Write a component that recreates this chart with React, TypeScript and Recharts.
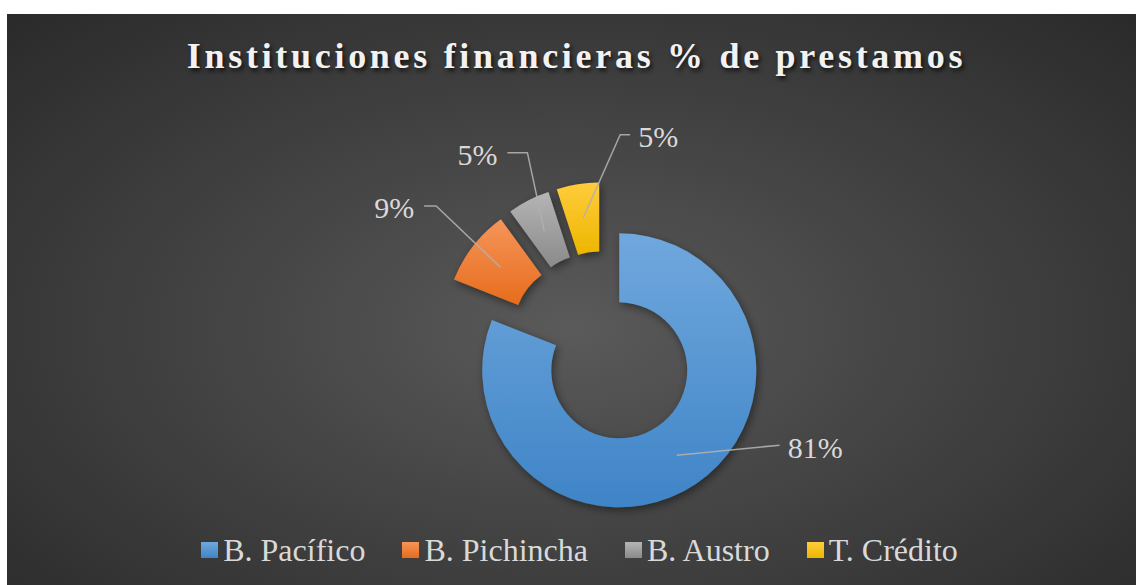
import React from "react";
import { Legend, Pie, PieChart, Sector } from "recharts";

const NAMES = ["B. Pacífico", "B. Pichincha", "B. Austro", "T. Crédito"];
const VALUES = [81, 9, 5, 5];

// gradient stops per slice: [top, bottom]
const COLORS: [string, string][] = [
  ["#70a8dd", "#3f84c7"],
  ["#f5955a", "#e76c1c"],
  ["#b5b5b5", "#8a8a8a"],
  ["#ffcc3c", "#edb600"],
];

// every slice is pulled out of the pie by this much, px
const EXPLODE = [28, 28, 28, 28];

// leader line elbow (polar, from the slice centre) and the short horizontal tail
const LABEL_LAYOUT = [
  { angle: -25, radius: 177, tail: 0 },
  { angle: 139.5, radius: 191, tail: -12 },
  { angle: 110.5, radius: 181, tail: -20 },
  { angle: 83.5, radius: 186, tail: 10 },
];

const W = 1129;
const H = 571;
const FONT = '"Liberation Serif", "DejaVu Serif", serif';
const TEXT = "#d9d9d9";
const RAD = Math.PI / 180;

const data = NAMES.map((name, i) => ({ name, value: VALUES[i], fill: COLORS[i][1] }));

function sliceIndex(props: any) {
  if (typeof props.index === "number") return props.index;
  const i = NAMES.indexOf(props.name ?? props.payload?.name);
  return i < 0 ? 0 : i;
}

function renderSlice(props: any) {
  const i = sliceIndex(props);
  const a = -props.midAngle * RAD;
  const d = EXPLODE[i];
  return (
    <Sector
      {...props}
      cx={props.cx + d * Math.cos(a)}
      cy={props.cy + d * Math.sin(a)}
      fill={`url(#slice${i})`}
      stroke="none"
      filter="url(#sliceShadow)"
    />
  );
}

function renderLabel(props: any) {
  const { cx, cy, midAngle, innerRadius, outerRadius, percent, index } = props;
  const a = -midAngle * RAD;
  const ox = cx + EXPLODE[index] * Math.cos(a);
  const oy = cy + EXPLODE[index] * Math.sin(a);
  const r = (innerRadius + outerRadius) / 2;
  const sx = ox + r * Math.cos(a);
  const sy = oy + r * Math.sin(a);
  const lay = LABEL_LAYOUT[index];
  const b = -lay.angle * RAD;
  const ex = ox + lay.radius * Math.cos(b);
  const ey = oy + lay.radius * Math.sin(b);
  const tx = ex + lay.tail;
  const right = lay.tail >= 0;
  return (
    <g key={`lbl${index}`}>
      <polyline
        points={`${sx},${sy} ${ex},${ey} ${tx},${ey}`}
        fill="none"
        stroke="#b0b0b0"
        strokeOpacity={0.9}
        strokeWidth={1.5}
      />
      <text
        x={tx + (right ? 8 : -10)}
        y={ey + 2}
        textAnchor={right ? "start" : "end"}
        dominantBaseline="central"
        fill={TEXT}
        fontFamily="Liberation Serif"
        fontWeight="normal"
        fontSize={30}
      >
        {`${Math.round(percent * 100)}%`}
      </text>
    </g>
  );
}

function renderLegend() {
  return (
    <div
      style={{
        display: "flex",
        justifyContent: "center",
        alignItems: "center",
        paddingLeft: 16,
        height: 36,
      }}
    >
      {NAMES.map((name, i) => (
        <div
          key={name}
          style={{ display: "flex", alignItems: "center", marginRight: i < NAMES.length - 1 ? 37 : 0 }}
        >
          <span
            style={{
              width: 17,
              height: 16,
              marginRight: 5,
              background: `linear-gradient(${COLORS[i][0]}, ${COLORS[i][1]})`,
            }}
          />
          <span style={{ color: TEXT, fontSize: 32, lineHeight: "36px", fontFamily: FONT, fontWeight: 400 }}>
            {name}
          </span>
        </div>
      ))}
    </div>
  );
}

export default function App() {
  return (
    <div
      style={{
        position: "absolute",
        left: 7,
        top: 14,
        width: W,
        height: H,
        background: "radial-gradient(ellipse at 50% 55%, #5a5a5a 0%, #464646 40%, #2a2a2a 100%)",
        fontFamily: FONT,
        overflow: "hidden",
      }}
    >
      <div
        style={{
          position: "absolute",
          top: 24,
          left: 5,
          width: W,
          textAlign: "center",
          fontSize: 36,
          lineHeight: "36px",
          fontWeight: "bold",
          letterSpacing: 3.7,
          color: "#f2f2f2",
          textShadow: "2px 3px 4px rgba(0,0,0,0.7)",
          zIndex: 1,
        }}
      >
        Instituciones financieras % de prestamos
      </div>
      <PieChart width={W} height={H} margin={{ top: 0, right: 0, bottom: 0, left: 0 }} style={{ fontFamily: FONT }}>
        <defs>
          {COLORS.map((c, i) => (
            <linearGradient key={i} id={`slice${i}`} x1="0" y1="0" x2="0" y2="1">
              <stop offset="0%" stopColor={c[0]} />
              <stop offset="100%" stopColor={c[1]} />
            </linearGradient>
          ))}
          <filter id="sliceShadow" x="-20%" y="-20%" width="140%" height="140%">
            <feDropShadow dx="2" dy="3" stdDeviation="4" floodColor="#000" floodOpacity="0.45" />
          </filter>
        </defs>
        <Pie
          data={data}
          dataKey="value"
          nameKey="name"
          cx={596.5}
          cy={333.2}
          innerRadius={68}
          outerRadius={137}
          startAngle={90}
          endAngle={-270}
          stroke="none"
          shape={renderSlice}
          label={renderLabel}
          labelLine={false}
          isAnimationActive={false}
        />
        <Legend verticalAlign="bottom" content={renderLegend} wrapperStyle={{ left: 0, bottom: 17, width: W }} />
      </PieChart>
    </div>
  );
}
